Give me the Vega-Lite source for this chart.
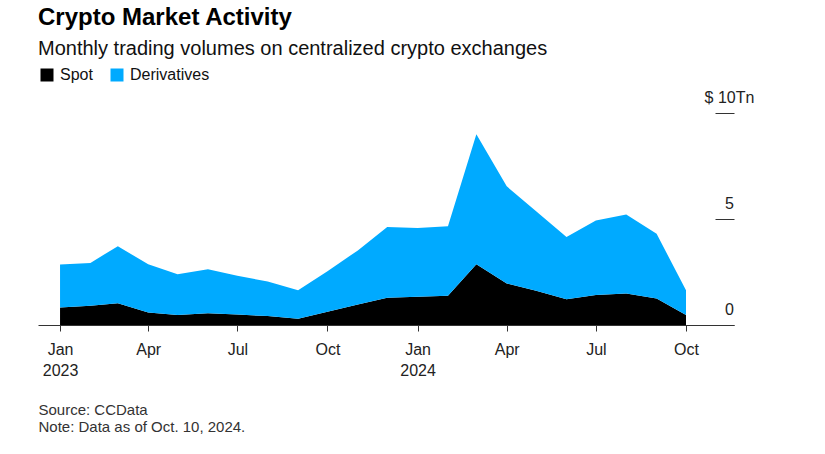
{
  "$schema": "https://vega.github.io/schema/vega-lite/v6.json",
  "width": 696,
  "height": 212,
  "autosize": {"type": "none"},
  "padding": {"left": 38, "top": 113, "right": 91, "bottom": 129},
  "background": "white",
  "title": {
    "text": "Crypto Market Activity",
    "subtitle": "Monthly trading volumes on centralized crypto exchanges",
    "anchor": "start",
    "frame": "group",
    "font": "Liberation Sans",
    "fontSize": 24,
    "fontWeight": "bold",
    "color": "#000000",
    "subtitleFont": "Liberation Sans",
    "subtitleFontSize": 20,
    "subtitleColor": "#111111",
    "subtitlePadding": 9,
    "offset": 8
  },
  "config": {
    "view": {"stroke": null},
    "font": "Liberation Sans"
  },
  "data": {
    "values": [
      {"month": "2023-01-01", "type": "Spot", "value": 0.83},
      {"month": "2023-02-01", "type": "Spot", "value": 0.91},
      {"month": "2023-03-01", "type": "Spot", "value": 1.03},
      {"month": "2023-04-01", "type": "Spot", "value": 0.59},
      {"month": "2023-05-01", "type": "Spot", "value": 0.47},
      {"month": "2023-06-01", "type": "Spot", "value": 0.55},
      {"month": "2023-07-01", "type": "Spot", "value": 0.49},
      {"month": "2023-08-01", "type": "Spot", "value": 0.42},
      {"month": "2023-09-01", "type": "Spot", "value": 0.30},
      {"month": "2023-10-01", "type": "Spot", "value": 0.63},
      {"month": "2023-11-01", "type": "Spot", "value": 0.97},
      {"month": "2023-12-01", "type": "Spot", "value": 1.28},
      {"month": "2024-01-01", "type": "Spot", "value": 1.33},
      {"month": "2024-02-01", "type": "Spot", "value": 1.38},
      {"month": "2024-03-01", "type": "Spot", "value": 2.86},
      {"month": "2024-04-01", "type": "Spot", "value": 1.96},
      {"month": "2024-05-01", "type": "Spot", "value": 1.61},
      {"month": "2024-06-01", "type": "Spot", "value": 1.22},
      {"month": "2024-07-01", "type": "Spot", "value": 1.41},
      {"month": "2024-08-01", "type": "Spot", "value": 1.49},
      {"month": "2024-09-01", "type": "Spot", "value": 1.25},
      {"month": "2024-10-01", "type": "Spot", "value": 0.47},
      {"month": "2023-01-01", "type": "Derivatives", "value": 2.02},
      {"month": "2023-02-01", "type": "Derivatives", "value": 2.02},
      {"month": "2023-03-01", "type": "Derivatives", "value": 2.69},
      {"month": "2023-04-01", "type": "Derivatives", "value": 2.27},
      {"month": "2023-05-01", "type": "Derivatives", "value": 1.92},
      {"month": "2023-06-01", "type": "Derivatives", "value": 2.08},
      {"month": "2023-07-01", "type": "Derivatives", "value": 1.83},
      {"month": "2023-08-01", "type": "Derivatives", "value": 1.63},
      {"month": "2023-09-01", "type": "Derivatives", "value": 1.34},
      {"month": "2023-10-01", "type": "Derivatives", "value": 1.91},
      {"month": "2023-11-01", "type": "Derivatives", "value": 2.55},
      {"month": "2023-12-01", "type": "Derivatives", "value": 3.34},
      {"month": "2024-01-01", "type": "Derivatives", "value": 3.25},
      {"month": "2024-02-01", "type": "Derivatives", "value": 3.28},
      {"month": "2024-03-01", "type": "Derivatives", "value": 6.14},
      {"month": "2024-04-01", "type": "Derivatives", "value": 4.58},
      {"month": "2024-05-01", "type": "Derivatives", "value": 3.76},
      {"month": "2024-06-01", "type": "Derivatives", "value": 2.93},
      {"month": "2024-07-01", "type": "Derivatives", "value": 3.52},
      {"month": "2024-08-01", "type": "Derivatives", "value": 3.72},
      {"month": "2024-09-01", "type": "Derivatives", "value": 3.05},
      {"month": "2024-10-01", "type": "Derivatives", "value": 1.17}
    ]
  },
  "mark": {"type": "area", "interpolate": "linear"},
  "encoding": {
    "x": {
      "field": "month",
      "type": "temporal",
      "scale": {
        "type": "utc",
        "domain": [
          {"year": 2022, "month": 12, "date": 9, "hours": 12, "utc": true},
          {"year": 2024, "month": 11, "date": 19, "utc": true}
        ]
      },
      "axis": {
        "values": [
          {"year": 2023, "month": 1, "date": 1, "utc": true},
          {"year": 2023, "month": 4, "date": 1, "utc": true},
          {"year": 2023, "month": 7, "date": 1, "utc": true},
          {"year": 2023, "month": 10, "date": 1, "utc": true},
          {"year": 2024, "month": 1, "date": 1, "utc": true},
          {"year": 2024, "month": 4, "date": 1, "utc": true},
          {"year": 2024, "month": 7, "date": 1, "utc": true},
          {"year": 2024, "month": 10, "date": 1, "utc": true}
        ],
        "labelExpr": "utcmonth(datum.value) == 0 ? [utcFormat(datum.value, '%b'), utcFormat(datum.value, '%Y')] : utcFormat(datum.value, '%b')",
        "grid": false,
        "domainColor": "#333333",
        "domainWidth": 1,
        "tickColor": "#333333",
        "tickSize": 6,
        "labelFont": "Liberation Sans",
        "labelFontSize": 16,
        "labelColor": "#222222",
        "labelPadding": 10,
        "labelBaseline": "top",
        "labelLineHeight": 21,
        "labelAlign": "center",
        "labelFlush": false,
        "labelOverlap": false,
        "title": ["Source: CCData", "Note: Data as of Oct. 10, 2024."],
        "titleAnchor": "start",
        "titleAlign": "left",
        "titleBaseline": "top",
        "titleFont": "Liberation Sans",
        "titleFontSize": 15,
        "titleFontWeight": "normal",
        "titleColor": "#333333",
        "titleLineHeight": 17,
        "titlePadding": 24
      }
    },
    "y": {
      "field": "value",
      "type": "quantitative",
      "stack": "zero",
      "scale": {"domain": [0, 10], "nice": false},
      "axis": {
        "orient": "right",
        "values": [0, 5, 10],
        "grid": false,
        "domain": false,
        "tickSize": -19,
        "tickColor": "#333333",
        "labelExpr": "datum.value == 10 ? '$ 10Tn' : datum.label",
        "labelAlign": "center",
        "labelBaseline": "alphabetic",
        "labelPadding": 14,
        "labelOffset": -11,
        "labelFont": "Liberation Sans",
        "labelFontSize": 16,
        "labelColor": "#222222",
        "title": null
      }
    },
    "color": {
      "field": "type",
      "type": "nominal",
      "scale": {"domain": ["Spot", "Derivatives"], "range": ["#000000", "#00aaff"]},
      "legend": {
        "orient": "none",
        "legendX": 1,
        "legendY": -46,
        "direction": "horizontal",
        "title": null,
        "symbolType": "square",
        "symbolSize": 169,
        "symbolStrokeWidth": 0,
        "symbolOpacity": 1,
        "labelFont": "Liberation Sans",
        "labelFontSize": 16,
        "labelColor": "#111111",
        "labelOffset": 5,
        "columnPadding": 16
      }
    },
    "order": {"field": "type", "sort": "descending"}
  }
}
